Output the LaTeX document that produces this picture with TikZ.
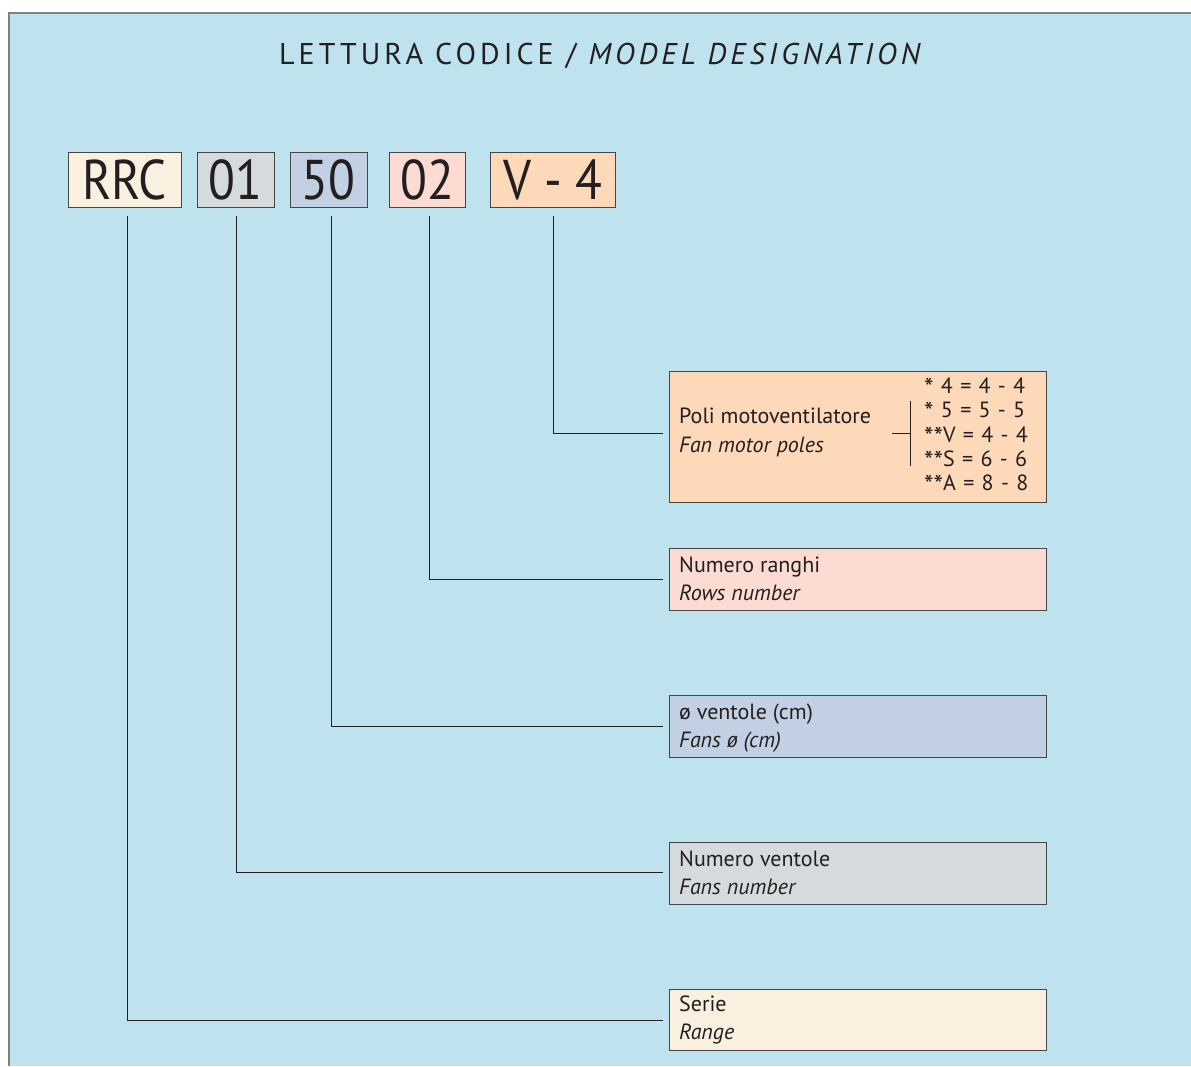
\documentclass[tikz,border=0pt]{standalone}
\usepackage{fontspec}
\setmainfont{PT Sans}
\newfontfamily\titlefont[LetterSpace=13.5]{PT Sans}
\newfontfamily\codefont[FakeStretch=0.88]{PT Sans}
\definecolor{bgblue}{RGB}{190,227,238}
\definecolor{frame}{RGB}{128,128,128}
\definecolor{edge}{RGB}{70,70,70}
\definecolor{cream}{RGB}{250,240,223}
\definecolor{greyc}{RGB}{213,218,221}
\definecolor{bluec}{RGB}{194,208,227}
\definecolor{pinkc}{RGB}{252,220,210}
\definecolor{peachc}{RGB}{253,217,185}
\definecolor{ink}{RGB}{35,31,32}
\newlength{\lstgap}
\setlength{\lstgap}{7.3pt}
\newcommand{\lgap}{\hspace{\lstgap}}
\newcommand{\bigstar}{\smash{\raisebox{-4.5pt}{\fontsize{27}{22}\selectfont *}}}
\begin{document}
\begin{tikzpicture}[x=1pt,y=-1pt,
  codebox/.style={draw=edge,line width=1pt,inner xsep=0pt,inner ysep=7.5pt,
    text height=40pt,text depth=0pt,minimum height=55pt,
    font=\codefont\fontsize{56}{56}\selectfont,text=ink},
  infobox/.style={draw=edge,line width=1pt,anchor=north west,inner sep=0pt,
    minimum width=377pt},
  lab/.style={anchor=base west,inner sep=0pt,text=ink,font=\fontsize{22}{22}\selectfont},
  lst/.style={anchor=base west,inner sep=0pt,text=ink,font=\fontsize{22}{22}\selectfont},
  conn/.style={draw=ink,line width=0.9pt}]
\useasboundingbox (0,0) rectangle (1191,1066);
\fill[white] (0,0) rectangle (1191,1066);
\fill[bgblue] (9,13) rectangle (1191,1066);
\draw[frame,line width=2pt] (9,1066) -- (9,13) -- (1191,13);
% title
\node[anchor=base,inner sep=0pt,text=ink,font=\titlefont\fontsize{30}{30}\selectfont] (title) at (602,64)
  {LETTURA CODICE / \textit{MODEL DESIGNATION}};
% code boxes
\node[codebox,fill=cream,minimum width=113pt] (rrc) at (124.5,179.5) {RRC};
\node[codebox,fill=greyc,minimum width=77pt] (c01) at (235.5,179.5) {01};
\node[codebox,fill=bluec,minimum width=77pt] (c50) at (328.5,179.5) {50};
\node[codebox,fill=pinkc,minimum width=76pt] (c02) at (427,179.5) {02};
\node[codebox,fill=peachc,minimum width=125pt] (cv4) at (552.5,179.5) {V - 4};
% info boxes
\node[infobox,fill=peachc,minimum height=131pt] (poli) at (669,371) {};
\node[infobox,fill=pinkc,minimum height=62pt] (rang) at (669,548) {};
\node[infobox,fill=bluec,minimum height=62pt] (diam) at (669,695) {};
\node[infobox,fill=greyc,minimum height=62pt] (nven) at (669,842) {};
\node[infobox,fill=cream,minimum height=61pt] (serie) at (669,989) {};
% labels
\node[lab] (poli1) at (679,423) {Poli motoventilatore};
\node[lab] (poli2) at (679,452) {\itshape Fan motor poles};
\node[lab] (rang1) at (679,572) {Numero ranghi};
\node[lab] (rang2) at (679,600) {\itshape Rows number};
\node[lab] (diam1) at (679,719) {ø ventole (cm)};
\node[lab] (diam2) at (679,747) {\itshape Fans ø (cm)};
\node[lab] (nven1) at (679,866) {Numero ventole};
\node[lab] (nven2) at (679,894) {\itshape Fans number};
\node[lab] (serie1) at (679,1011) {Serie};
\node[lab] (serie2) at (679,1039) {\itshape Range};
% pole list
\node[lst] (l1) at (924,393) {\bigstar\lgap4\lgap=\lgap4\lgap-\lgap4};
\node[lst] (l2) at (924,417) {\bigstar\lgap5\lgap=\lgap5\lgap-\lgap5};
\node[lst] (l3) at (924,442) {\bigstar\bigstar V\lgap=\lgap4\lgap-\lgap4};
\node[lst] (l4) at (924,466) {\bigstar\bigstar S\lgap=\lgap6\lgap-\lgap6};
\node[lst] (l5) at (924,490) {\bigstar\bigstar A\lgap=\lgap8\lgap-\lgap8};
\coordinate (brtop) at (910,401);
\coordinate (brbot) at (910,466);
\coordinate (brmid) at (910,433);
\coordinate (brleft) at (892,433);
\draw[conn] (brtop) -- (brbot);
\draw[conn] (brleft) -- (brmid);
% connectors
\draw[conn] ([xshift=2.5pt,yshift=-8pt]rrc.south) |- ([xshift=-6pt]serie.west);
\draw[conn] ([xshift=0.5pt,yshift=-8pt]c01.south) |- ([xshift=-6pt,yshift=1pt]nven.west);
\draw[conn] ([xshift=2.5pt,yshift=-8pt]c50.south) |- ([xshift=-6pt]diam.west);
\draw[conn] ([xshift=2pt,yshift=-8pt]c02.south) |- ([xshift=-6pt]rang.west);
\draw[conn] ([xshift=0.5pt,yshift=-8pt]cv4.south) |- ([xshift=-6pt,yshift=3.5pt]poli.west);
\end{tikzpicture}
\end{document}
